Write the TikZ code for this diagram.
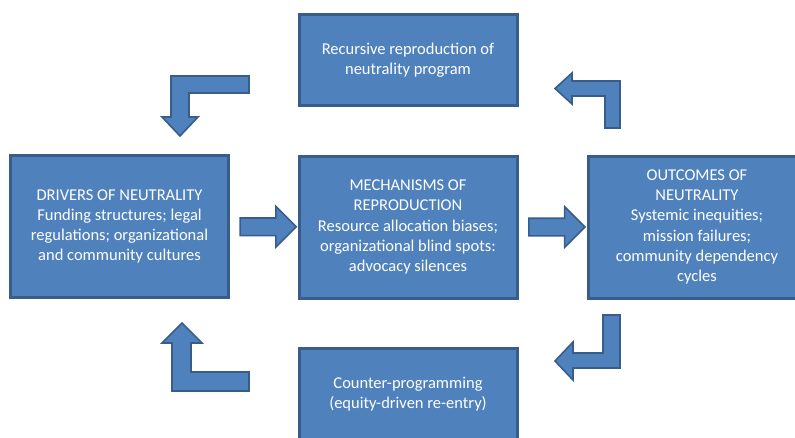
\documentclass[tikz,border=0pt]{standalone}
\usepackage{fontspec}
\setmainfont{Carlito}
\usetikzlibrary{shapes.arrows,calc}
\definecolor{BoxBlue}{HTML}{4F81BD}
\definecolor{EdgeBlue}{HTML}{385D8A}

\begin{document}
\begin{tikzpicture}[x=1pt,y=-1pt,
    stagebox/.style={draw=EdgeBlue,fill=BoxBlue,line width=3pt,text=white,
      align=center,inner sep=0pt,minimum width=218pt,
      font=\fontsize{16.5}{20.3}\selectfont},
    blockarrow/.style={draw=EdgeBlue,fill=BoxBlue,line width=1.6pt,line join=miter},
    straightarrow/.style={blockarrow,single arrow,inner sep=0pt,inner ysep=8pt,
      single arrow head extend=11.5pt,minimum height=56pt,minimum width=0pt}]
    \useasboundingbox (0,0) rectangle (795,437);
    \clip (0,0) rectangle (795,437);
    % stages
    \node[stagebox,minimum height=91pt] (recur) at (408,60)
      {Recursive reproduction of\\neutrality program};
    \node[stagebox,minimum height=142pt] (drv) at (119.5,226.5)
      {DRIVERS OF NEUTRALITY\\Funding structures; legal\\regulations; organizational\\and community cultures};
    \node[stagebox,minimum height=142pt] (mech) at (408,227)
      {MECHANISMS OF\\REPRODUCTION\\Resource allocation biases;\\organizational blind spots:\\advocacy silences};
    \node[stagebox,minimum height=142pt] (outc) at (697,227)
      {OUTCOMES OF\\NEUTRALITY\\Systemic inequities;\\mission failures;\\community dependency\\cycles};
    \node[stagebox,minimum height=91pt] (counter) at (408,394)
      {Counter-programming\\(equity-driven re-entry)};
    % straight arrows
    \node[straightarrow] (a1) at ($(drv.east)!0.5!(mech.west)$) {};
    \node[straightarrow] (a2) at ($(mech.east)!0.5!(outc.west)$) {};
    % bent arrows
    \draw[blockarrow] (249,76) -- (171,76) -- (171,117) -- (162,117) -- (180,136)
      -- (198,117) -- (189,117) -- (189,93) -- (249,93) -- cycle;
    \draw[blockarrow] (620,128) -- (620,81) -- (572,81) -- (572,73) -- (555,88.5)
      -- (572,104) -- (572,96) -- (605,96) -- (605,128) -- cycle;
    \draw[blockarrow] (249,372) -- (249,391) -- (172,391) -- (172,343) -- (162,343)
      -- (182,323) -- (202,343) -- (191,343) -- (191,372) -- cycle;
    \draw[blockarrow] (620,315) -- (620,368) -- (573,368) -- (573,380) -- (555,361)
      -- (573,342) -- (573,353) -- (603,353) -- (603,315) -- cycle;
\end{tikzpicture}
\end{document}
